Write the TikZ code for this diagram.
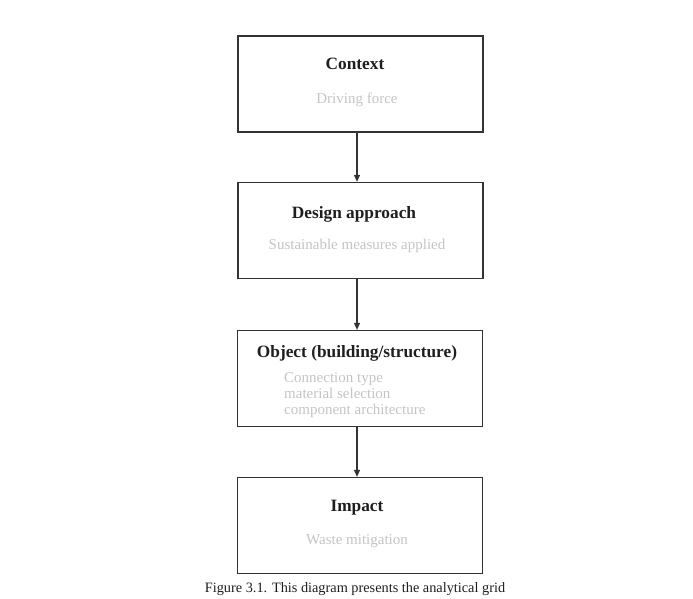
\documentclass[tikz,border=0pt]{standalone}
\usepackage{fontspec}
\setmainfont{Liberation Serif}
\usetikzlibrary{arrows.meta}
\definecolor{boxline}{HTML}{333333}
\definecolor{titlecol}{HTML}{1E1E1E}
\definecolor{subcol}{HTML}{C4C4C4}
\begin{document}
\begin{tikzpicture}[x=1pt,y=-1pt,
  stagebox/.style={draw=boxline, line width=1.3pt, minimum width=245pt, minimum height=96pt, inner sep=0pt},
  titletext/.style={font=\fontsize{17.3}{20}\selectfont\bfseries, text=titlecol},
  subtext/.style={font=\fontsize{15}{16}\selectfont, text=subcol, align=left},
  flow/.style={draw=boxline, line width=1.1pt, -{Triangle[length=7pt,width=6pt]}}]
\useasboundingbox (0,0) rectangle (693,598);
\node[stagebox] (b1) at (360.5,84) {};
\node[stagebox] (b2) at (360.5,230.5) {};
\node[stagebox] (b3) at (360,378.5) {};
\node[stagebox] (b4) at (360,525.5) {};
\node[titletext] (t1) at (355,64) {Context};
\node[subtext] (s1) at (357,100) {Driving force};
\node[titletext] (t2) at (354,214) {Design approach};
\node[subtext] (s2) at (357,246) {Sustainable measures applied};
\node[titletext] (t3) at (357,353) {Object (building/structure)};
\node[subtext, anchor=north west, inner sep=0pt] (s3) at (284,372) {Connection type\\material selection\\component architecture};
\node[titletext] (t4) at (357,508) {Impact};
\node[subtext] (s4) at (357,541) {Waste mitigation};
\node[font=\fontsize{14.3}{16}\selectfont, text=titlecol, inner sep=0pt] (cap) at (355,589) {Figure 3.1. This diagram presents the analytical grid};
\draw[flow] (b1.south -| 357,0) -- (b2.north -| 357,0);
\draw[flow] (b2.south -| 357,0) -- (b3.north -| 357,0);
\draw[flow] (b3.south -| 357,0) -- (b4.north -| 357,0);
\end{tikzpicture}
\end{document}
